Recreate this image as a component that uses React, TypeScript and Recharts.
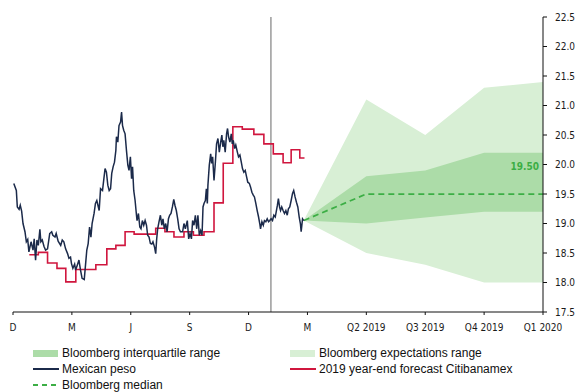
import React from "react";
import {
	ComposedChart,
	Line,
	Area,
	XAxis,
	YAxis,
	ReferenceLine,
	LabelList,
} from "recharts";

// x values are months counted from the Dec 2017 tick (Mar 2019 = 15, Q1 2020 = 27)
const TICK_MONTHS = [0, 3, 6, 9, 12, 15, 18, 21, 24, 27];
const TICK_LABELS = ["D", "M", "J", "S", "D", "M", "Q2 2019", "Q3 2019", "Q4 2019", "Q1 2020"];
const Y_TICKS = [17.5, 18, 18.5, 19, 19.5, 20, 20.5, 21, 21.5, 22, 22.5];

// date of the last observation (vertical marker)
const CUTOFF_MONTH = 13.14;

// USD/MXN spot, [month, value]
const PESO: [number, number][] = [
	[0.04, 19.68], [0.17, 19.56], [0.22, 19.28], [0.31, 19.24], [0.37, 19.31], [0.44, 19.21], [0.51, 19.0], [0.61, 18.86],
	[0.68, 18.69], [0.75, 18.73], [0.81, 18.52], [0.92, 18.69], [1.02, 18.55], [1.08, 18.74], [1.15, 18.38], [1.22, 18.72],
	[1.29, 18.63], [1.37, 18.9], [1.42, 18.69], [1.49, 18.72], [1.58, 18.61], [1.66, 18.55], [1.76, 18.57], [1.87, 18.83],
	[1.97, 18.86], [2.03, 18.8], [2.14, 18.77], [2.2, 18.83], [2.3, 18.7], [2.43, 18.63], [2.51, 18.72], [2.59, 18.69],
	[2.68, 18.57], [2.78, 18.49], [2.85, 18.41], [2.93, 18.43], [2.98, 18.32], [3.05, 18.24], [3.14, 18.31], [3.19, 18.21],
	[3.27, 18.29], [3.36, 18.38], [3.44, 18.21], [3.52, 18.07], [3.63, 18.05], [3.7, 18.32], [3.76, 18.55], [3.83, 18.66],
	[3.9, 18.94], [3.97, 18.77], [4.03, 19.0], [4.13, 19.17], [4.2, 19.34], [4.27, 19.39], [4.39, 19.22], [4.46, 19.59],
	[4.56, 19.56], [4.63, 19.76], [4.69, 19.93], [4.76, 19.87], [4.83, 19.65], [4.9, 19.56], [4.97, 19.59], [5.03, 19.85],
	[5.1, 19.96], [5.17, 20.04], [5.24, 20.24], [5.27, 20.47], [5.34, 20.38], [5.4, 20.66], [5.48, 20.72], [5.53, 20.89],
	[5.58, 20.66], [5.64, 20.58], [5.71, 20.52], [5.78, 20.24], [5.85, 19.99], [5.91, 19.9], [5.98, 20.13], [6.04, 19.76],
	[6.09, 19.96], [6.15, 19.56], [6.22, 19.39], [6.29, 19.14], [6.32, 19.05], [6.39, 19.17], [6.46, 18.94], [6.52, 18.91],
	[6.59, 19.05], [6.66, 18.97], [6.73, 19.05], [6.8, 18.97], [6.86, 18.8], [6.93, 18.77], [7.0, 18.66], [7.07, 18.65],
	[7.13, 18.69], [7.21, 18.6], [7.27, 18.49], [7.32, 18.74], [7.37, 18.91], [7.44, 19.03], [7.51, 19.14], [7.58, 18.97],
	[7.64, 19.08], [7.71, 18.91], [7.78, 19.0], [7.85, 18.86], [7.92, 19.08], [7.98, 19.14], [8.05, 19.17], [8.12, 19.28],
	[8.19, 19.41], [8.25, 19.31], [8.32, 19.22], [8.39, 19.08], [8.46, 18.91], [8.53, 18.86], [8.64, 18.86], [8.71, 19.0],
	[8.78, 18.91], [8.88, 19.05], [8.95, 18.74], [9.02, 18.83], [9.09, 18.74], [9.15, 19.05], [9.22, 18.97], [9.29, 19.14],
	[9.36, 18.91], [9.42, 19.14], [9.49, 18.8], [9.56, 18.88], [9.63, 18.8], [9.68, 19.28], [9.73, 19.34], [9.8, 19.39],
	[9.85, 19.59], [9.9, 19.34], [9.93, 19.65], [10.0, 19.99], [10.07, 20.18], [10.12, 20.02], [10.17, 20.13], [10.24, 19.73],
	[10.31, 20.04], [10.37, 20.35], [10.44, 20.44], [10.51, 20.21], [10.58, 20.38], [10.64, 20.5], [10.69, 20.3], [10.74, 20.41],
	[10.81, 20.21], [10.88, 20.52], [10.93, 20.61], [10.98, 20.47], [11.05, 20.38], [11.12, 20.52], [11.17, 20.35], [11.22, 20.41],
	[11.29, 20.27], [11.35, 20.33], [11.43, 20.21], [11.49, 20.13], [11.56, 20.16], [11.63, 20.04], [11.69, 19.93], [11.76, 19.87],
	[11.83, 19.9], [11.9, 19.79], [11.96, 19.7], [12.04, 19.68], [12.1, 19.62], [12.17, 19.53], [12.24, 19.48], [12.3, 19.45],
	[12.37, 19.34], [12.44, 19.22], [12.51, 19.11], [12.57, 19.0], [12.61, 18.91], [12.68, 19.03], [12.75, 18.97], [12.81, 19.05],
	[12.88, 19.03], [12.95, 19.08], [13.02, 19.03], [13.08, 19.05], [13.15, 19.08], [13.22, 19.05], [13.29, 19.14], [13.36, 19.11],
	[13.42, 19.22], [13.47, 19.31], [13.52, 19.42], [13.58, 19.28], [13.63, 19.22], [13.69, 19.28], [13.76, 19.22], [13.83, 19.17],
	[13.9, 19.22], [13.97, 19.14], [14.03, 19.25], [14.1, 19.28], [14.17, 19.39], [14.24, 19.51], [14.3, 19.56], [14.37, 19.45],
	[14.44, 19.36], [14.51, 19.28], [14.58, 19.11], [14.64, 19.0], [14.68, 18.86], [14.75, 19.08], [14.81, 19.05],
];

// Citibanamex survey, year-end 2019 forecast (fortnightly steps)
const CITI: [number, number][] = [
	[0.83, 18.47], [1.29, 18.51], [1.76, 18.33], [2.24, 18.24], [2.69, 18.01], [3.2, 18.22], [4.22, 18.3],
	[4.78, 18.57], [5.24, 18.63], [5.71, 18.86], [6.17, 18.82], [7.27, 18.92], [7.74, 18.86], [8.2, 18.77],
	[8.71, 18.86], [9.19, 18.8], [9.73, 18.86], [10.24, 19.35], [10.71, 20.02], [11.2, 20.64], [11.68, 20.6],
	[12.27, 20.51], [12.78, 20.35], [13.26, 20.18], [13.76, 20.03], [14.17, 20.25], [14.61, 20.11], [14.85, 20.11],
];

// Bloomberg survey fan, starting from last spot
const FAN_MONTHS = [14.81, 18, 21, 24, 27];
const RANGE_LOW = [19.05, 18.5, 18.3, 18.0, 18.0];
const RANGE_HIGH = [19.05, 21.1, 20.5, 21.3, 21.4];
const IQR_LOW = [19.05, 19.0, 19.1, 19.2, 19.2];
const IQR_HIGH = [19.05, 19.8, 19.9, 20.2, 20.2];
const MEDIAN = [19.05, 19.5, 19.5, 19.5, 19.5];

const pesoData = PESO.map(([m, v]) => ({ m, v }));
const citiData = CITI.map(([m, v]) => ({ m, v }));
const fanData = FAN_MONTHS.map((m, i) => ({
	m,
	range: [RANGE_LOW[i], RANGE_HIGH[i]],
	iqr: [IQR_LOW[i], IQR_HIGH[i]],
	median: MEDIAN[i],
}));

const NAVY = "#1b2a4a";
const RED = "#d0163e";
const LIGHT_GREEN = "#d8efd5";
const MID_GREEN = "#acdca8";
const DARK_GREEN = "#3cae45";

const AXIS_FONT = "'DejaVu Sans Condensed', 'DejaVu Sans', sans-serif";
const LEGEND_FONT = "'Liberation Sans', Arial, sans-serif";

const tickStyle = {
	fontSize: 10,
	fontFamily: AXIS_FONT,
	fontStretch: "condensed",
	fill: "#1a1a1a",
};

const MedianLabel = (props: any) => {
	const { x, y, value, index } = props;
	if (index !== MEDIAN.length - 1) return null;
	return (
		<text
			x={x - 4}
			y={y - 24}
			textAnchor="end"
			fill={DARK_GREEN}
			fontSize={10}
			fontWeight="bold"
			fontFamily={AXIS_FONT}
			style={{ fontStretch: "condensed" }}>
			{Number(value).toFixed(2)}
		</text>
	);
};

const Swatch = ({ kind, color }: { kind: string; color: string }) => (
	<svg width={27} height={10} style={{ display: "block" }}>
		{kind === "box" && <rect x={0} y={2} width={25} height={7} fill={color} />}
		{kind === "line" && <line x1={0} x2={26} y1={5} y2={5} stroke={color} strokeWidth={2} />}
		{kind === "dash" && (
			<line x1={0} x2={26} y1={5} y2={5} stroke={color} strokeWidth={2} strokeDasharray="5 4" />
		)}
	</svg>
);

const legendItems = [
	{ label: "Bloomberg interquartile range", kind: "box", color: MID_GREEN, left: 33, top: 353 },
	{ label: "Bloomberg expectations range", kind: "box", color: LIGHT_GREEN, left: 290, top: 353 },
	{ label: "Mexican peso", kind: "line", color: NAVY, left: 33, top: 369 },
	{ label: "2019 year-end forecast Citibanamex", kind: "line", color: RED, left: 290, top: 369 },
	{ label: "Bloomberg median", kind: "dash", color: DARK_GREEN, left: 33, top: 385 },
];

export default function App() {
	const labelFor = (v: number) => TICK_LABELS[TICK_MONTHS.indexOf(v)] ?? "";

	return (
		<div
			style={{
				position: "absolute",
				left: 0,
				top: 0,
				width: 578,
				height: 392,
				background: "#fff",
				overflow: "hidden",
			}}>
			<ComposedChart
				width={578}
				height={340}
				margin={{ top: 17, right: 0, left: 13, bottom: 0 }}>
				<XAxis
					type="number"
					dataKey="m"
					domain={[0, 27]}
					ticks={TICK_MONTHS}
					interval={0}
					allowDataOverflow
					tickFormatter={labelFor}
					tick={tickStyle}
					tickSize={3}
					tickMargin={9}
					height={28}
					stroke="#111"
				/>
				<YAxis
					orientation="right"
					type="number"
					domain={[17.5, 22.5]}
					ticks={Y_TICKS}
					interval={0}
					allowDataOverflow
					tickFormatter={(v: number) => v.toFixed(1)}
					tick={{ ...tickStyle, textAnchor: "start" }}
					tickSize={4}
					tickMargin={8}
					width={35}
					stroke="#111"
				/>
				<Area
					data={fanData}
					dataKey="range"
					type="linear"
					stroke="none"
					fill={LIGHT_GREEN}
					fillOpacity={1}
					isAnimationActive={false}
				/>
				<Area
					data={fanData}
					dataKey="iqr"
					type="linear"
					stroke="none"
					fill={MID_GREEN}
					fillOpacity={1}
					isAnimationActive={false}
				/>
				<Line
					data={fanData}
					dataKey="median"
					type="linear"
					stroke={DARK_GREEN}
					strokeWidth={1.75}
					strokeDasharray="6 4"
					dot={false}
					isAnimationActive={false}>
					<LabelList dataKey="median" content={<MedianLabel />} />
				</Line>
				<ReferenceLine x={CUTOFF_MONTH} stroke="#808080" strokeWidth={1.2} />
				<Line
					data={citiData}
					dataKey="v"
					type="stepAfter"
					stroke={RED}
					strokeWidth={1.6}
					dot={false}
					isAnimationActive={false}
				/>
				<Line
					data={pesoData}
					dataKey="v"
					type="linear"
					stroke={NAVY}
					strokeWidth={1.5}
					dot={false}
					isAnimationActive={false}
				/>
			</ComposedChart>
			{legendItems.map((it) => (
				<div
					key={it.label}
					style={{
						position: "absolute",
						left: it.left,
						top: it.top - 8,
						height: 16,
						display: "flex",
						alignItems: "center",
						gap: 2,
						fontFamily: LEGEND_FONT,
						fontSize: 12,
						color: "#111",
						whiteSpace: "nowrap",
					}}>
					<Swatch kind={it.kind} color={it.color} />
					<span>{it.label}</span>
				</div>
			))}
		</div>
	);
}
